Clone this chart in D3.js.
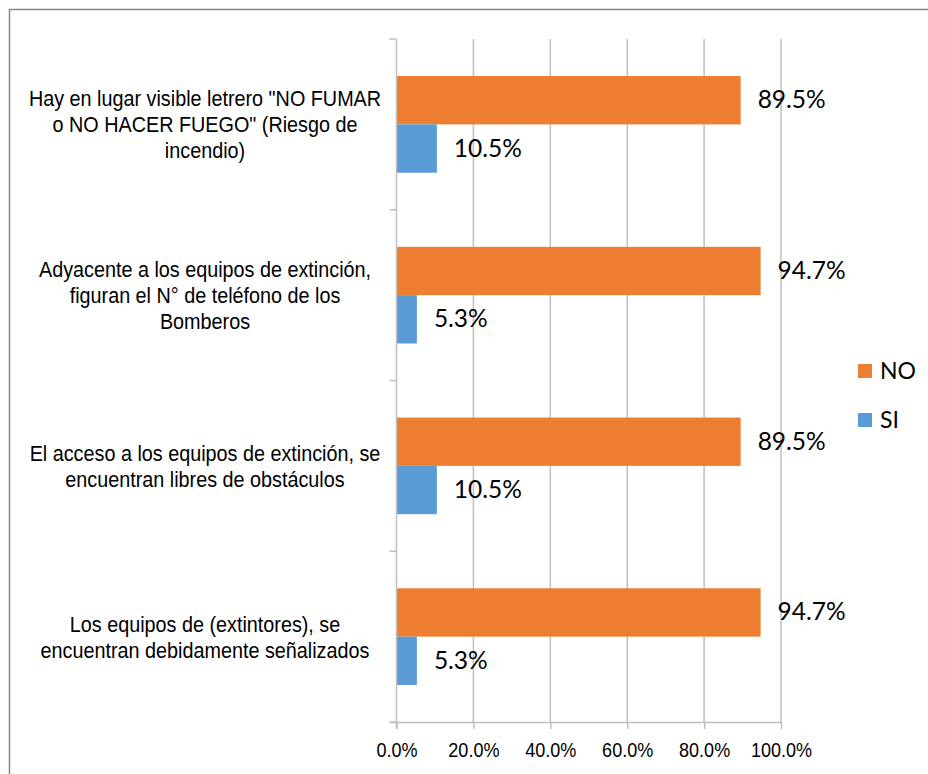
<!DOCTYPE html>
<html><head><meta charset="utf-8">
<script src="https://cdn.jsdelivr.net/npm/d3@7"></script>
<style>body{margin:0;background:#fff}svg{display:block}</style>
</head><body>
<svg id="chart" width="928" height="774"></svg>
<script>
const categories = [
  ["Hay en lugar visible letrero \"NO FUMAR", "o NO HACER FUEGO\" (Riesgo de", "incendio)"],
  ["Adyacente a los equipos de extinción,", "figuran el N° de teléfono de los", "Bomberos"],
  ["El acceso a los equipos de extinción, se", "encuentran libres de obstáculos"],
  ["Los equipos de (extintores), se", "encuentran debidamente señalizados"]
];
const seriesNames = ["NO", "SI"];
const noValues = [89.5, 94.7, 89.5, 94.7];
const siValues = [10.5, 5.3, 10.5, 5.3];
const tickValues = [0, 20, 40, 60, 80, 100];
const colors = {NO: "#ED7D31", SI: "#5B9BD5"};

const svg = d3.select("#chart");
const x0 = 396.5, x1 = 781, yTop = 39, yBot = 722;
const x = d3.scaleLinear().domain([0, 100]).range([x0, x1]);
const y = d3.scaleBand().domain(d3.range(categories.length)).range([yTop, yBot]).padding(0);
const yi = d3.scaleBand().domain(seriesNames).range([0, y.step()]).paddingInner(0).paddingOuter(0.767);

// outer border
svg.append("path").attr("d", `M9.5,774 V9.5 H928`).attr("fill", "none").attr("stroke", "#868686").attr("stroke-width", 1.5);

// gridlines
const grid = "#bfbfbf";
svg.append("g").selectAll("line").data(tickValues.slice(1)).join("line")
  .attr("x1", d => x(d)).attr("x2", d => x(d)).attr("y1", yTop).attr("y2", yBot)
  .attr("stroke", grid).attr("stroke-width", 1.5);

// bars
const data = categories.map((c, i) => ({i, NO: noValues[i], SI: siValues[i]}));
const groups = svg.append("g").selectAll("g").data(data).join("g")
  .attr("transform", d => `translate(0,${y(d.i)})`);
groups.selectAll("rect").data(d => seriesNames.map(s => ({s, v: d[s]}))).join("rect")
  .attr("x", x(0)).attr("y", d => yi(d.s)).attr("width", d => x(d.v) - x(0))
  .attr("height", yi.bandwidth()).attr("fill", d => colors[d.s]);
groups.selectAll("text.val").data(d => seriesNames.map(s => ({s, v: d[s]}))).join("text")
  .attr("class", "val")
  .attr("x", d => x(d.v) + 17).attr("y", d => yi(d.s) + yi.bandwidth() / 2 + 8)
  .attr("font-family", "Lato, 'Open Sans', sans-serif").attr("font-size", 24.5).attr("fill", "#000")
  .text(d => d.v.toFixed(1) + "%");

// x axis
const xAxis = svg.append("g").attr("transform", `translate(0,${yBot})`)
  .call(d3.axisBottom(x).tickValues(tickValues).tickSize(7).tickFormat(d => d.toFixed(1) + "%"));
xAxis.select(".domain").attr("d", `M${x0 - 7},0.5H${x1}`).attr("stroke", grid).attr("stroke-width", 1.5);
xAxis.selectAll(".tick line").attr("stroke", grid).attr("stroke-width", 1.5);
xAxis.selectAll(".tick text")
  .attr("font-family", "'Liberation Sans', Arial, sans-serif")
  .attr("font-size", 21).attr("fill", "#000")
  .attr("x", 0).attr("y", 0)
  .attr("transform", "translate(0,35) scale(0.86,1)").attr("dy", null);

// y axis
const yAxisG = svg.append("g");
yAxisG.append("line").attr("x1", x0).attr("x2", x0).attr("y1", yTop).attr("y2", yBot + 7)
  .attr("stroke", grid).attr("stroke-width", 1.5);
yAxisG.selectAll("line.yt").data(d3.range(categories.length + 1)).join("line").attr("class", "yt")
  .attr("x1", x0 - 7).attr("x2", x0)
  .attr("y1", d => yTop + d * y.step()).attr("y2", d => yTop + d * y.step())
  .attr("stroke", grid).attr("stroke-width", 1.5);

// category labels
const lh = 26;
categories.forEach((lines, i) => {
  const cy = y(i) + y.step() / 2;
  const g = svg.append("g").attr("transform", `translate(205,${cy}) scale(0.9,1)`);
  const t = g.append("text").attr("text-anchor", "middle")
    .attr("font-family", "'Liberation Sans', Arial, sans-serif").attr("font-size", 22).attr("fill", "#000");
  lines.forEach((ln, k) => {
    t.append("tspan").attr("x", 0).attr("y", (k - (lines.length - 1) / 2) * lh + 8).text(ln);
  });
});

// legend
const leg = svg.append("g").attr("transform", "translate(858,364)");
seriesNames.forEach((s, k) => {
  const g = leg.append("g").attr("transform", `translate(0,${k * 49})`);
  g.append("rect").attr("width", 14).attr("height", 14).attr("fill", colors[s]);
  g.append("text").attr("x", 22).attr("y", 15).attr("font-family", "Lato, 'Open Sans', sans-serif")
    .attr("font-size", 23).attr("fill", "#000").text(s);
});
</script>
</body></html>
